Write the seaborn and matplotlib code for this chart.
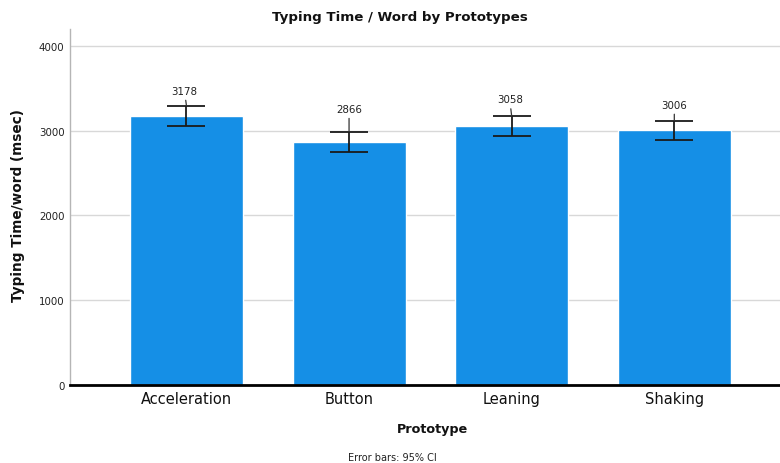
import matplotlib
matplotlib.use("Agg")
import matplotlib.pyplot as plt
import seaborn as sns
import pandas as pd
import numpy as np

# Mean typing time per word for each prototype, with 95% confidence limits
prototypes = ["Acceleration", "Button", "Leaning", "Shaking"]
mean_ms = [3178, 2866, 3058, 3006]
ci_low = [3060, 2752, 2943, 2893]
ci_high = [3296, 2988, 3172, 3120]
y_ticks = [0, 1000, 2000, 3000, 4000]

sns.set_style("white")
plt.rcParams["font.family"] = ["DejaVu Sans"]

W, H = 780, 464
fig = plt.figure(figsize=(W / 100, H / 100), dpi=100)
ax = fig.add_axes([70 / W, 1 - 386 / H, 710 / W, (386 - 30) / H])

df = pd.DataFrame({"Prototype": prototypes, "Time": mean_ms})
sns.barplot(data=df, x="Prototype", y="Time", color="#158fe6", saturation=1,
            width=0.695, errorbar=None, ax=ax, zorder=2)

means = np.array(mean_ms)
yerr = [means - np.array(ci_low), np.array(ci_high) - means]
ax.errorbar(np.arange(len(prototypes)), means, yerr=yerr, fmt="none",
            ecolor="#1a1a1a", elinewidth=1.3, capsize=13.5, capthick=1.3,
            zorder=3)

# Value labels with short leader lines down to the upper CI cap
label_offsets = [(-2, 15), (0, 23), (-2, 17), (0, 16)]
for i, (m, hi) in enumerate(zip(mean_ms, ci_high)):
    dx, dy = label_offsets[i]
    ax.annotate(f"{m}", xy=(i, hi), xytext=(dx, dy), textcoords="offset pixels",
                ha="center", va="center", fontsize=7.4, color="#222222",
                arrowprops=dict(arrowstyle="-", color="#333333", lw=0.9,
                                shrinkA=1, shrinkB=0),
                zorder=4)

ax.set_ylim(0, 4200)
ax.set_xlim(-0.716, 3.65)
ax.set_yticks(y_ticks)
ax.set_yticklabels([str(t) for t in y_ticks], fontsize=7.4, color="#222222")
ax.set_xticks(range(len(prototypes)))
ax.set_xticklabels(prototypes, fontsize=10.5, color="#111111")
ax.tick_params(axis="both", length=0)
ax.tick_params(axis="y", pad=4)
ax.tick_params(axis="x", pad=4)
ax.set_xlabel("")
ax.set_ylabel("")

ax.yaxis.grid(True, color="#d8d8d8", linewidth=1)
ax.set_axisbelow(True)
for side in ("top", "right"):
    ax.spines[side].set_visible(False)
ax.spines["left"].set_color("#b5b5b5")
ax.spines["left"].set_linewidth(1)
ax.spines["bottom"].set_color("#000000")
ax.spines["bottom"].set_linewidth(2)
ax.spines["bottom"].set_zorder(5)

fig.text(400 / W, 1 - 18 / H, "Typing Time / Word by Prototypes",
         ha="center", va="center", fontsize=9.6, fontweight="bold", color="#111111")
fig.text(18 / W, 1 - 206 / H, "Typing Time/word (msec)", rotation=90,
         ha="center", va="center", fontsize=9.8, fontweight="bold", color="#111111")
fig.text(432 / W, 1 - 430 / H, "Prototype",
         ha="center", va="center", fontsize=9.2, fontweight="bold", color="#111111")
fig.text(392 / W, 1 - 458 / H, "Error bars: 95% CI",
         ha="center", va="center", fontsize=7, color="#222222")

fig.savefig("out.png", dpi=100)
